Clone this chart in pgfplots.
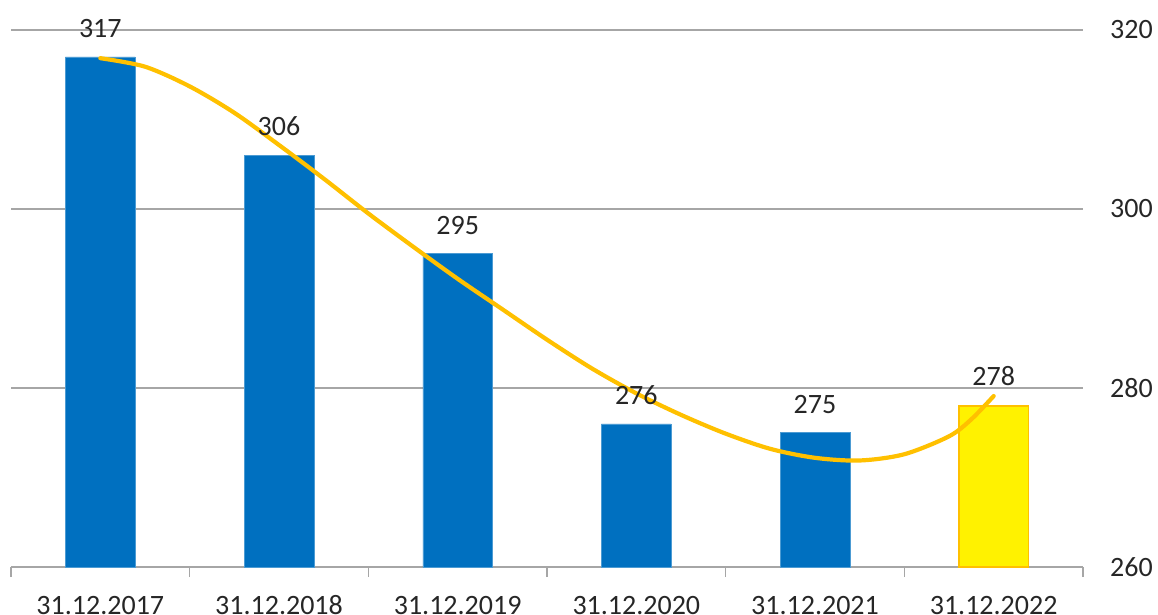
\documentclass[border=0pt]{standalone}
\usepackage{pgfplots}
\pgfplotsset{compat=1.18}
\usepackage{fontspec}
\setmainfont{Carlito}
\definecolor{barblue}{HTML}{0070C0}
\definecolor{gold}{HTML}{FFC000}
\definecolor{gridgray}{HTML}{A6A6A6}
\definecolor{txt}{HTML}{262626}
\begin{document}
\begin{tikzpicture}
\begin{axis}[
  at={(0,0)}, anchor=south west,
  width=1072pt, height=537pt, scale only axis,
  xmin=-0.5, xmax=5.5, ymin=260, ymax=320,
  ytick={260,280,300,320},
  ymajorgrids, grid style={gridgray, line width=1.2pt},
  axis x line*=bottom, axis y line*=right,
  y axis line style={draw=none},
  x axis line style={gridgray, line width=1.2pt},
  xtick={0,...,5},
  xticklabels={31.12.2017,31.12.2018,31.12.2019,31.12.2020,31.12.2021,31.12.2022},
  minor xtick={-0.5,0.5,...,5.5},
  major tick length=0pt,
  minor tick length=10pt,
  tick align=outside,
  minor tick style={gridgray, line width=1.2pt},
  /pgf/number format/assume math mode=true,
  ticklabel style={font=\fontsize{28}{32}\selectfont, text=txt, inner sep=0pt},
  yticklabel style={anchor=west, xshift=27pt},
  xticklabel style={anchor=base, yshift=-47pt},
  clip=false,
]
\addplot[ybar, bar width=0.39, bar shift=0pt, fill=barblue, draw=barblue!70!white, line width=0.5pt,
  nodes near coords, every node near coord/.append style={font=\fontsize{28}{32}\selectfont, text=txt, inner sep=0pt, anchor=south, yshift=19pt},
  /pgf/number format/assume math mode=true]
  coordinates {(0,317) (1,306) (2,295) (3,276) (4,275)};
\addplot[ybar, bar width=0.39, bar shift=0pt, fill=yellow, draw=gold, line width=1.8pt,
  nodes near coords, every node near coord/.append style={font=\fontsize{28}{32}\selectfont, text=txt, inner sep=0pt, anchor=south, yshift=19pt},
  /pgf/number format/assume math mode=true]
  coordinates {(5,278)};
\addplot[smooth, draw=gold, line width=4.2pt, line cap=round, mark=none] coordinates {
  (0,316.85) (0.25,315.9) (0.5,313.7) (0.75,310.75) (1,307.15) (1.25,303.4)
  (1.5,299.5) (1.75,295.8) (2,292.2) (2.25,288.8) (2.5,285.4) (2.75,282.2)
  (3,279.4) (3.25,277.0) (3.5,274.9) (3.75,273.2) (4,272.2) (4.25,271.9)
  (4.5,272.6) (4.75,274.6) (4.875,276.5) (5,279.1)};
\end{axis}
\pgfresetboundingbox
\path[use as bounding box] (-11pt,-48pt) rectangle (1147pt,567pt);
\end{tikzpicture}
\end{document}
